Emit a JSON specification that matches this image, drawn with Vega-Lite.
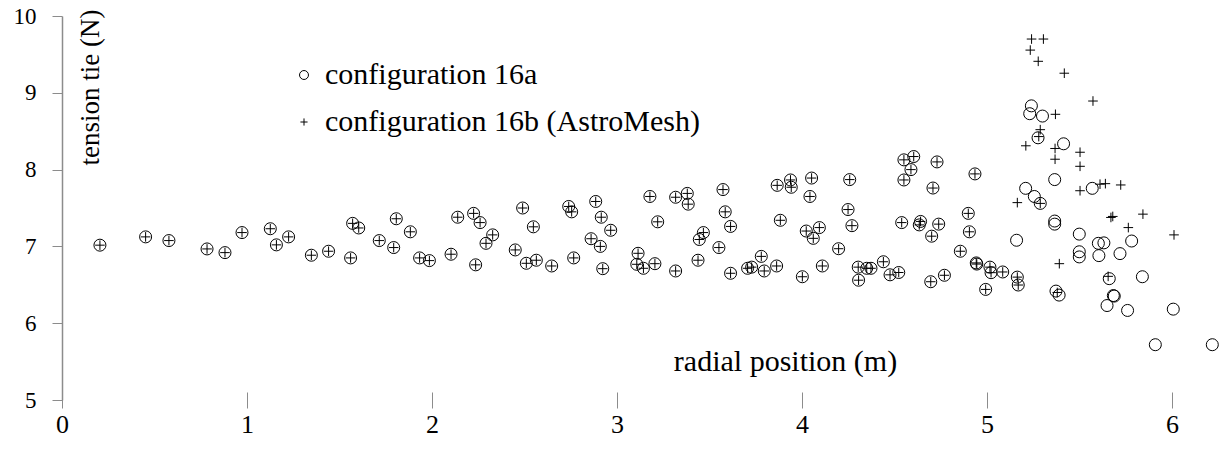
{
  "$schema": "https://vega.github.io/schema/vega-lite/v6.json",
  "width": 1159,
  "height": 384,
  "autosize": {"type": "none"},
  "padding": {"left": 62, "top": 16, "right": 0, "bottom": 60},
  "background": "white",
  "config": {"view": {"stroke": null}, "font": "Liberation Serif"},
  "datasets": {
    "a": [
      {"x":0.205,"y":7.016},{"x":0.452,"y":7.124},{"x":0.578,"y":7.076},{"x":0.784,"y":6.967},{"x":0.881,"y":6.919},
      {"x":0.973,"y":7.18},{"x":1.126,"y":7.23},{"x":1.159,"y":7.02},{"x":1.225,"y":7.124},{"x":1.348,"y":6.885},
      {"x":1.441,"y":6.937},{"x":1.56,"y":6.85},{"x":1.571,"y":7.30},{"x":1.604,"y":7.24},{"x":1.715,"y":7.076},
      {"x":1.807,"y":7.36},{"x":1.793,"y":6.985},{"x":1.883,"y":7.19},{"x":1.933,"y":6.85},{"x":1.986,"y":6.815},
      {"x":2.103,"y":6.898},{"x":2.139,"y":7.38},{"x":2.225,"y":7.43},{"x":2.26,"y":7.31},{"x":2.328,"y":7.15},
      {"x":2.292,"y":7.04},{"x":2.236,"y":6.76},{"x":2.45,"y":6.954},{"x":2.49,"y":7.50},{"x":2.548,"y":7.255},
      {"x":2.51,"y":6.78},{"x":2.564,"y":6.82},{"x":2.647,"y":6.745},{"x":2.739,"y":7.52},{"x":2.755,"y":7.45},
      {"x":2.766,"y":6.85},{"x":2.885,"y":7.585},{"x":2.915,"y":7.38},{"x":2.966,"y":7.21},{"x":2.86,"y":7.10},
      {"x":2.91,"y":7.00},{"x":2.923,"y":6.71},{"x":3.178,"y":7.65},{"x":3.22,"y":7.32},{"x":3.114,"y":6.91},
      {"x":3.107,"y":6.767},{"x":3.143,"y":6.715},{"x":3.205,"y":6.775},{"x":3.317,"y":7.64},{"x":3.38,"y":7.69},
      {"x":3.385,"y":7.55},{"x":3.317,"y":6.68},{"x":3.438,"y":6.82},{"x":3.467,"y":7.18},{"x":3.445,"y":7.09},
      {"x":3.573,"y":7.74},{"x":3.585,"y":7.45},{"x":3.614,"y":7.26},{"x":3.551,"y":6.985},{"x":3.614,"y":6.65},
      {"x":3.706,"y":6.715},{"x":3.728,"y":6.73},{"x":3.78,"y":6.87},{"x":3.796,"y":6.68},{"x":3.863,"y":6.745},
      {"x":3.883,"y":7.34},{"x":3.866,"y":7.795},{"x":3.938,"y":7.865},{"x":3.942,"y":7.77},{"x":4.052,"y":7.89},
      {"x":4.043,"y":7.65},{"x":4.023,"y":7.20},{"x":4.094,"y":7.245},{"x":4.061,"y":7.105},{"x":4.002,"y":6.605},
      {"x":4.11,"y":6.745},{"x":4.198,"y":6.97},{"x":4.258,"y":7.87},{"x":4.249,"y":7.48},{"x":4.27,"y":7.27},
      {"x":4.304,"y":6.73},{"x":4.306,"y":6.56},{"x":4.35,"y":6.715},{"x":4.373,"y":6.715},{"x":4.44,"y":6.80},
      {"x":4.476,"y":6.63},{"x":4.523,"y":6.66},{"x":4.539,"y":7.31},{"x":4.551,"y":8.127},{"x":4.551,"y":7.865},
      {"x":4.604,"y":8.17},{"x":4.589,"y":8.0},{"x":4.73,"y":8.10},{"x":4.708,"y":7.76},{"x":4.935,"y":7.944},
      {"x":4.641,"y":7.325},{"x":4.634,"y":7.28},{"x":4.739,"y":7.29},{"x":4.701,"y":7.133},{"x":4.899,"y":7.43},
      {"x":4.905,"y":7.19},{"x":4.856,"y":6.937},{"x":4.942,"y":6.785},{"x":4.945,"y":6.77},{"x":4.696,"y":6.54},
      {"x":4.77,"y":6.624},{"x":4.993,"y":6.44},{"x":5.016,"y":6.73},{"x":5.022,"y":6.658},{"x":5.085,"y":6.667},
      {"x":5.164,"y":6.60},{"x":5.169,"y":6.497},
      {"x":5.16,"y":7.08},{"x":5.209,"y":7.756},{"x":5.231,"y":8.728},{"x":5.24,"y":8.83},{"x":5.30,"y":8.697},
      {"x":5.276,"y":8.414},{"x":5.256,"y":7.65},{"x":5.288,"y":7.56},{"x":5.366,"y":7.87},{"x":5.414,"y":8.336},
      {"x":5.569,"y":7.756},{"x":5.366,"y":7.33},{"x":5.366,"y":7.29},{"x":5.373,"y":6.418},{"x":5.39,"y":6.366},
      {"x":5.499,"y":7.16},{"x":5.499,"y":6.93},{"x":5.499,"y":6.863},{"x":5.602,"y":7.04},{"x":5.632,"y":7.046},
      {"x":5.605,"y":6.88},{"x":5.719,"y":6.906},{"x":5.782,"y":7.07},{"x":5.661,"y":6.58},{"x":5.683,"y":6.36},
      {"x":5.688,"y":6.353},{"x":5.649,"y":6.23},{"x":5.76,"y":6.166},{"x":5.84,"y":6.605},{"x":6.007,"y":6.183},
      {"x":5.91,"y":5.72},{"x":6.218,"y":5.72}
    ],
    "b": [
      {"x":0.205,"y":7.016},{"x":0.452,"y":7.124},{"x":0.578,"y":7.076},{"x":0.784,"y":6.967},{"x":0.881,"y":6.919},
      {"x":0.973,"y":7.18},{"x":1.126,"y":7.23},{"x":1.159,"y":7.02},{"x":1.225,"y":7.124},{"x":1.348,"y":6.885},
      {"x":1.441,"y":6.937},{"x":1.56,"y":6.85},{"x":1.571,"y":7.30},{"x":1.604,"y":7.24},{"x":1.715,"y":7.076},
      {"x":1.807,"y":7.36},{"x":1.793,"y":6.985},{"x":1.883,"y":7.19},{"x":1.933,"y":6.85},{"x":1.986,"y":6.815},
      {"x":2.103,"y":6.898},{"x":2.139,"y":7.38},{"x":2.225,"y":7.43},{"x":2.26,"y":7.31},{"x":2.328,"y":7.15},
      {"x":2.292,"y":7.04},{"x":2.236,"y":6.76},{"x":2.45,"y":6.954},{"x":2.49,"y":7.50},{"x":2.548,"y":7.255},
      {"x":2.51,"y":6.78},{"x":2.564,"y":6.82},{"x":2.647,"y":6.745},{"x":2.739,"y":7.52},{"x":2.755,"y":7.45},
      {"x":2.766,"y":6.85},{"x":2.885,"y":7.585},{"x":2.915,"y":7.38},{"x":2.966,"y":7.21},{"x":2.86,"y":7.10},
      {"x":2.91,"y":7.00},{"x":2.923,"y":6.71},{"x":3.178,"y":7.65},{"x":3.22,"y":7.32},{"x":3.114,"y":6.91},
      {"x":3.107,"y":6.767},{"x":3.143,"y":6.715},{"x":3.205,"y":6.775},{"x":3.317,"y":7.64},{"x":3.38,"y":7.69},
      {"x":3.385,"y":7.55},{"x":3.317,"y":6.68},{"x":3.438,"y":6.82},{"x":3.467,"y":7.18},{"x":3.445,"y":7.09},
      {"x":3.573,"y":7.74},{"x":3.585,"y":7.45},{"x":3.614,"y":7.26},{"x":3.551,"y":6.985},{"x":3.614,"y":6.65},
      {"x":3.706,"y":6.715},{"x":3.728,"y":6.73},{"x":3.78,"y":6.87},{"x":3.796,"y":6.68},{"x":3.863,"y":6.745},
      {"x":3.883,"y":7.34},{"x":3.866,"y":7.795},{"x":3.938,"y":7.865},{"x":3.942,"y":7.77},{"x":4.052,"y":7.89},
      {"x":4.043,"y":7.65},{"x":4.023,"y":7.20},{"x":4.094,"y":7.245},{"x":4.061,"y":7.105},{"x":4.002,"y":6.605},
      {"x":4.11,"y":6.745},{"x":4.198,"y":6.97},{"x":4.258,"y":7.87},{"x":4.249,"y":7.48},{"x":4.27,"y":7.27},
      {"x":4.304,"y":6.73},{"x":4.306,"y":6.56},{"x":4.35,"y":6.715},{"x":4.373,"y":6.715},{"x":4.44,"y":6.80},
      {"x":4.476,"y":6.63},{"x":4.523,"y":6.66},{"x":4.539,"y":7.31},{"x":4.551,"y":8.127},{"x":4.551,"y":7.865},
      {"x":4.604,"y":8.17},{"x":4.589,"y":8.0},{"x":4.73,"y":8.10},{"x":4.708,"y":7.76},{"x":4.935,"y":7.944},
      {"x":4.641,"y":7.325},{"x":4.634,"y":7.28},{"x":4.739,"y":7.29},{"x":4.701,"y":7.133},{"x":4.899,"y":7.43},
      {"x":4.905,"y":7.19},{"x":4.856,"y":6.937},{"x":4.942,"y":6.785},{"x":4.945,"y":6.77},{"x":4.696,"y":6.54},
      {"x":4.77,"y":6.624},{"x":4.993,"y":6.44},{"x":5.016,"y":6.73},{"x":5.022,"y":6.658},{"x":5.085,"y":6.667},
      {"x":5.164,"y":6.60},{"x":5.169,"y":6.497},
      {"x":5.241,"y":9.70},{"x":5.305,"y":9.70},{"x":5.234,"y":9.556},{"x":5.277,"y":9.41},{"x":5.418,"y":9.255},
      {"x":5.573,"y":8.893},{"x":5.37,"y":8.72},{"x":5.288,"y":8.52},{"x":5.28,"y":8.43},{"x":5.21,"y":8.31},
      {"x":5.368,"y":8.275},{"x":5.368,"y":8.135},{"x":5.503,"y":8.226},{"x":5.503,"y":8.043},{"x":5.503,"y":7.725},
      {"x":5.611,"y":7.81},{"x":5.64,"y":7.817},{"x":5.723,"y":7.80},{"x":5.164,"y":7.57},{"x":5.288,"y":7.56},
      {"x":5.67,"y":7.377},{"x":5.68,"y":7.39},{"x":5.764,"y":7.245},{"x":5.843,"y":7.42},{"x":6.011,"y":7.15},
      {"x":5.391,"y":6.775},{"x":5.38,"y":6.40},{"x":5.655,"y":6.61}
    ]
  },
  "encoding": {
    "x": {
      "field": "x", "type": "quantitative",
      "scale": {"domain": [0, 6.265], "nice": false, "zero": false},
      "axis": {
        "values": [0, 1, 2, 3, 4, 5, 6], "offset": -8, "domain": false, "grid": false,
        "tickSize": 16, "tickColor": "#8c8c8c", "tickWidth": 1,
        "labelFontSize": 26, "labelColor": "black", "labelBaseline": "middle", "labelPadding": 16,
        "labelFlush": false, "labelOverlap": false,
        "title": "radial position (m)", "titleFontSize": 30, "titleFontWeight": "normal", "titleColor": "black",
        "titleX": 723, "titleY": -31, "titleAlign": "center", "titleBaseline": "middle"
      }
    },
    "y": {
      "field": "y", "type": "quantitative",
      "scale": {"domain": [5, 10], "nice": false, "zero": false},
      "axis": {
        "values": [5, 6, 7, 8, 9, 10], "grid": false,
        "domainColor": "#8c8c8c", "domainWidth": 1.5, "tickColor": "#8c8c8c", "tickSize": 10, "tickWidth": 1,
        "labelFontSize": 23, "labelColor": "black", "labelPadding": 16, "labelFlush": false,
        "title": "tension tie (N)", "titleFontSize": 27, "titleFontWeight": "normal", "titleColor": "black",
        "titleAngle": 270, "titleX": 28, "titleY": 71, "titleAlign": "center", "titleBaseline": "middle"
      }
    }
  },
  "layer": [
    {
      "data": {"values": [{}]},
      "mark": {"type": "rule", "color": "#8c8c8c", "strokeWidth": 1.5},
      "encoding": {"x": null, "y": {"datum": 5, "type": "quantitative"}}
    },
    {
      "data": {"name": "a"},
      "mark": {"type": "point", "filled": false, "color": "black", "strokeWidth": 1, "size": 144, "opacity": 1},
      "encoding": {
        "shape": {
          "datum": "configuration 16a",
          "scale": {"domain": ["configuration 16a", "configuration 16b (AstroMesh)"], "range": ["circle", "M-0.8,0H0.8M0,-0.8V0.8"]},
          "legend": {
            "orient": "none", "legendX": 227, "legendY": 44, "title": null, "padding": 0,
            "labelFontSize": 30, "labelColor": "black", "labelOffset": 6, "labelLimit": 0, "rowPadding": 17,
            "symbolSize": 80, "symbolStrokeColor": "black", "symbolStrokeWidth": 1, "symbolFillColor": "transparent"
          }
        }
      }
    },
    {
      "data": {"name": "b"},
      "mark": {"type": "point", "filled": false, "color": "black", "strokeWidth": 1, "size": 144, "opacity": 1},
      "encoding": {
        "shape": {"datum": "configuration 16b (AstroMesh)"}
      }
    }
  ]
}
